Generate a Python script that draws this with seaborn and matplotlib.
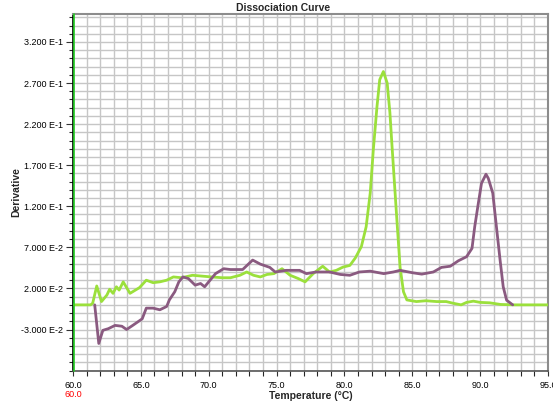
import numpy as np
import pandas as pd
import matplotlib
matplotlib.use('Agg')
import matplotlib.pyplot as plt
import matplotlib.transforms as mtransforms
from matplotlib.ticker import FixedLocator, FixedFormatter, MultipleLocator
import seaborn as sns

# melt curve derivative
green_temp = [60.0, 61.3, 61.45, 61.75, 62.1, 62.5, 62.7, 62.95, 63.2, 63.4, 63.7, 64.2,
              64.9, 65.4, 65.9, 66.4, 66.9, 67.4, 68.0, 68.8, 69.5, 70.2, 71.0, 71.6,
              72.3, 72.8, 73.3, 73.8, 74.3, 74.8, 75.4, 76.0, 76.6, 77.1, 77.7, 78.4,
              78.9, 79.4, 79.9, 80.4, 80.8, 81.25, 81.6, 81.9, 82.13, 82.4, 82.6, 82.87,
              83.15, 83.35, 83.5, 83.85, 84.1, 84.35, 84.6, 85.3, 86.0, 86.8, 87.5, 88.0,
              88.6, 89.0, 89.5, 90.0, 90.7, 91.5, 92.5, 95.0]
green_deriv = [0.0, 0.0, 0.002, 0.023, 0.004, 0.012, 0.019, 0.014, 0.022, 0.018, 0.028, 0.014,
               0.021, 0.030, 0.027, 0.028, 0.030, 0.034, 0.033, 0.036, 0.035, 0.034, 0.033, 0.033,
               0.036, 0.040, 0.036, 0.034, 0.037, 0.038, 0.044, 0.036, 0.032, 0.028, 0.038, 0.047,
               0.040, 0.042, 0.046, 0.048, 0.057, 0.071, 0.095, 0.136, 0.189, 0.2415, 0.274, 0.284,
               0.270, 0.234, 0.195, 0.107, 0.046, 0.016, 0.006, 0.004, 0.005, 0.004, 0.004, 0.002,
               0.000, 0.003, 0.0045, 0.003, 0.0025, 0.0005, 0.0, 0.0]

purple_temp = [61.6, 61.9, 62.2, 62.6, 63.1, 63.6, 63.95, 64.4, 65.1, 65.4, 65.9, 66.4,
               66.9, 67.1, 67.5, 67.8, 68.1, 68.5, 69.0, 69.4, 69.7, 70.1, 70.5, 71.1,
               71.6, 72.5, 73.24, 73.8, 74.5, 74.9, 75.7, 76.7, 77.2, 77.9, 78.9, 79.7,
               80.4, 81.1, 81.9, 82.9, 83.6, 84.1, 85.05, 85.7, 86.55, 87.15, 87.8, 88.4,
               89.0, 89.4, 89.6, 89.87, 90.1, 90.43, 90.6, 90.93, 91.2, 91.47, 91.7, 91.95, 92.4]
purple_deriv = [0.0, -0.047, -0.031, -0.029, -0.025, -0.026, -0.030, -0.025, -0.017, -0.004, -0.004, -0.006,
                -0.002, 0.006, 0.016, 0.028, 0.034, 0.032, 0.024, 0.026, 0.022, 0.030, 0.038, 0.044,
                0.043, 0.043, 0.0545, 0.0496, 0.0456, 0.040, 0.042, 0.042, 0.038, 0.040, 0.040, 0.037,
                0.036, 0.040, 0.041, 0.038, 0.040, 0.042, 0.039, 0.0374, 0.040, 0.0456, 0.047, 0.0537,
                0.0586, 0.0688, 0.095, 0.124, 0.148, 0.159, 0.154, 0.136, 0.095, 0.0545, 0.022, 0.0057, 0.0]

ytick_vals = [-0.03, 0.02, 0.07, 0.12, 0.17, 0.22, 0.27, 0.32]
ytick_labels = ['-3.000 E-2', '2.000 E-2', '7.000 E-2', '1.200 E-1',
                '1.700 E-1', '2.200 E-1', '2.700 E-1', '3.200 E-1']
xtick_vals = [60, 65, 70, 75, 80, 85, 90, 95]
cursor_temp = 60.0

df = pd.concat([
    pd.DataFrame({'temp': green_temp, 'deriv': green_deriv, 'well': 'A'}),
    pd.DataFrame({'temp': purple_temp, 'deriv': purple_deriv, 'well': 'B'}),
])

sns.set_style('white')
plt.rcParams['font.family'] = ['Liberation Sans', 'DejaVu Sans']

fig = plt.figure(figsize=(5.53, 4.01), dpi=100)
ax = fig.add_axes([73 / 553, 1 - 371 / 401, 475 / 553, 357 / 401])

sns.lineplot(data=df, x='temp', y='deriv', hue='well', estimator=None, sort=False,
             palette={'A': '#9be03c', 'B': '#8a5a80'}, linewidth=2.0, legend=False, ax=ax, zorder=3)

ax.set_xlim(60, 95)
ax.set_ylim(-0.0805, 0.354)

ax.xaxis.set_major_locator(FixedLocator(xtick_vals))
ax.xaxis.set_major_formatter(FixedFormatter([f'{v:.1f}' for v in xtick_vals]))
ax.xaxis.set_minor_locator(MultipleLocator(1))
ax.yaxis.set_major_locator(FixedLocator(ytick_vals))
ax.yaxis.set_major_formatter(FixedFormatter(ytick_labels))
ax.yaxis.set_minor_locator(MultipleLocator(0.01))

ax.grid(True, which='both', color='#c6c6c6', linewidth=1.0, zorder=0)
ax.set_axisbelow(True)

ax.tick_params(axis='both', which='major', labelsize=6.5, colors='#333333', labelcolor='black')
ax.tick_params(axis='x', which='both', direction='out', length=3.5, width=0.8, bottom=True, pad=4)
ax.tick_params(axis='y', which='major', direction='out', length=5, width=0.8, left=True, pad=2)
ax.tick_params(axis='y', which='minor', direction='out', length=3, width=0.8, left=True)

for side in ['top', 'right']:
    ax.spines[side].set_color('#8c8c8c')
    ax.spines[side].set_linewidth(1.5)
ax.spines['bottom'].set_color('#555555')
ax.spines['bottom'].set_linewidth(1.2)
ax.spines['left'].set_color('black')
ax.spines['left'].set_linewidth(1.2)

# cursor line just right of the left axis
shift = mtransforms.offset_copy(ax.get_xaxis_transform(), fig=fig, x=1.2, y=0, units='dots')
ax.plot([cursor_temp, cursor_temp], [0, 1], color='#22cc22', linewidth=1.2,
        transform=shift, clip_on=False, zorder=4)
ax.annotate(f'{cursor_temp:.1f}', xy=(cursor_temp, 0), xycoords=('data', 'axes fraction'),
            xytext=(0, -13.5), textcoords='offset points', ha='center', va='top',
            color='red', fontsize=6.5)

ax.set_xlabel('Temperature (°C)', fontsize=7.5, fontweight='bold')
ax.xaxis.set_label_coords(0.5, -0.056)
ax.set_ylabel('Derivative', fontsize=7.5, fontweight='bold', labelpad=0)
fig.text(283 / 553, 1 - 8 / 401, 'Dissociation Curve', fontsize=7.5, fontweight='bold',
         ha='center', va='center')

fig.savefig('out.png', dpi=100)
